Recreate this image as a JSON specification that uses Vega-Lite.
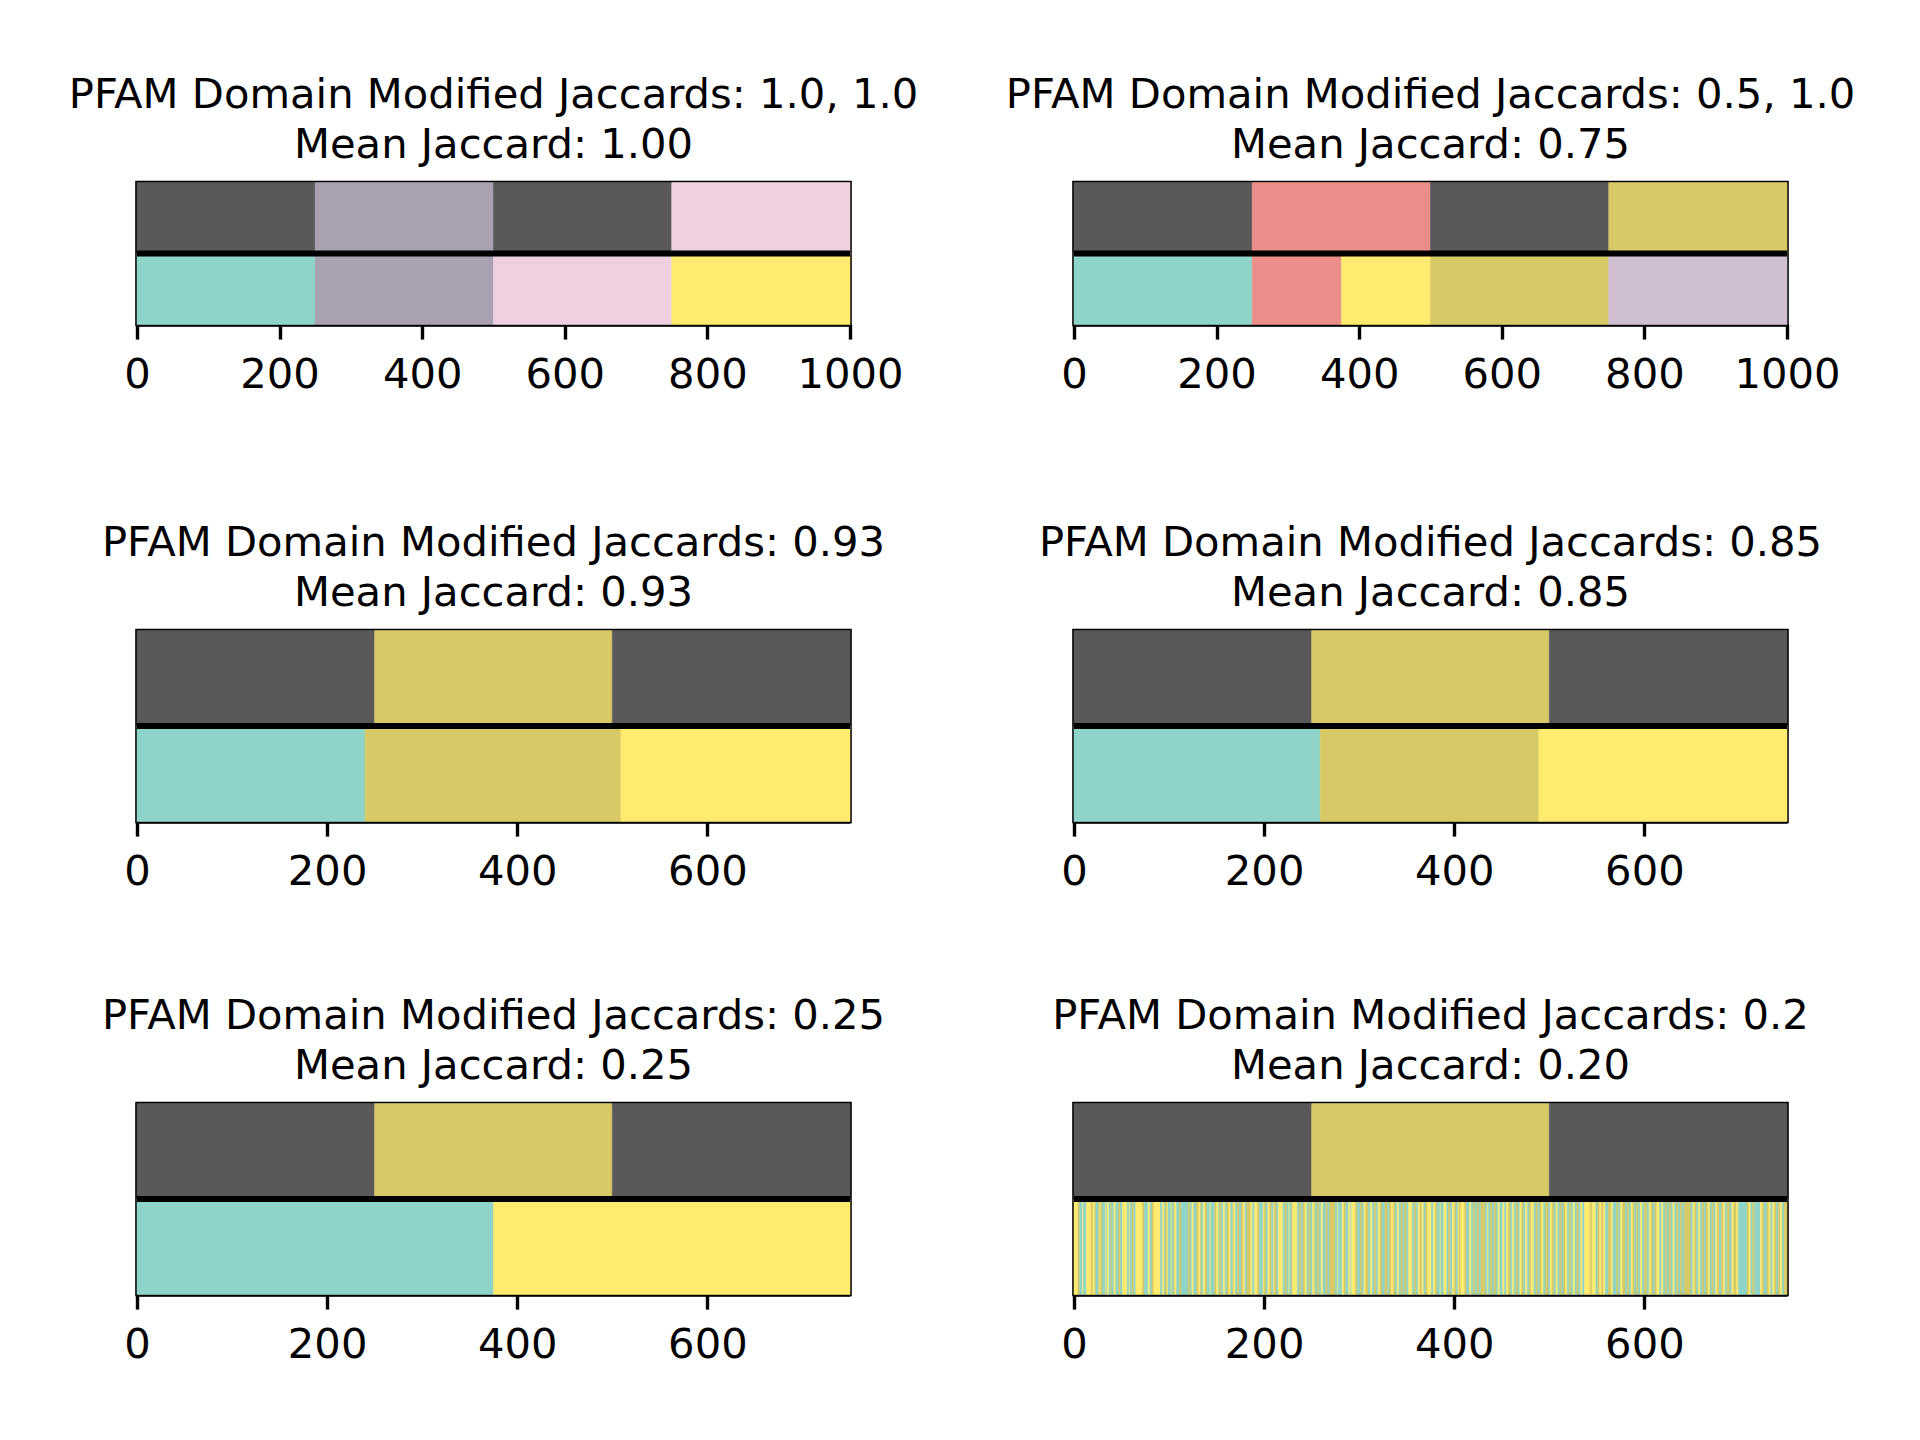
{
  "$schema": "https://vega.github.io/schema/vega-lite/v6.json",
  "background": "white",
  "padding": {"left": 67, "top": 72.5, "right": 20, "bottom": 20},
  "datasets": {
    "bars": [
      {"panel": "A", "track": "t", "start": 0, "end": 250, "pfam": "none"},
      {"panel": "A", "track": "t", "start": 250, "end": 500, "pfam": "d4"},
      {"panel": "A", "track": "t", "start": 500, "end": 750, "pfam": "none"},
      {"panel": "A", "track": "t", "start": 750, "end": 1000, "pfam": "d5"},
      {"panel": "A", "track": "b", "start": 0, "end": 250, "pfam": "d1"},
      {"panel": "A", "track": "b", "start": 250, "end": 500, "pfam": "d4"},
      {"panel": "A", "track": "b", "start": 500, "end": 750, "pfam": "d5"},
      {"panel": "A", "track": "b", "start": 750, "end": 1000, "pfam": "d2"},
      {"panel": "B", "track": "t", "start": 0, "end": 250, "pfam": "none"},
      {"panel": "B", "track": "t", "start": 250, "end": 500, "pfam": "d6"},
      {"panel": "B", "track": "t", "start": 500, "end": 750, "pfam": "none"},
      {"panel": "B", "track": "t", "start": 750, "end": 1000, "pfam": "d3"},
      {"panel": "B", "track": "b", "start": 0, "end": 250, "pfam": "d1"},
      {"panel": "B", "track": "b", "start": 250, "end": 375, "pfam": "d6"},
      {"panel": "B", "track": "b", "start": 375, "end": 500, "pfam": "d2"},
      {"panel": "B", "track": "b", "start": 500, "end": 750, "pfam": "d3"},
      {"panel": "B", "track": "b", "start": 750, "end": 1000, "pfam": "d7"},
      {"panel": "C", "track": "t", "start": 0, "end": 250, "pfam": "none"},
      {"panel": "C", "track": "t", "start": 250, "end": 500, "pfam": "d3"},
      {"panel": "C", "track": "t", "start": 500, "end": 750, "pfam": "none"},
      {"panel": "C", "track": "b", "start": 0, "end": 240, "pfam": "d1"},
      {"panel": "C", "track": "b", "start": 240, "end": 509, "pfam": "d3"},
      {"panel": "C", "track": "b", "start": 509, "end": 750, "pfam": "d2"},
      {"panel": "D", "track": "t", "start": 0, "end": 250, "pfam": "none"},
      {"panel": "D", "track": "t", "start": 250, "end": 500, "pfam": "d3"},
      {"panel": "D", "track": "t", "start": 500, "end": 750, "pfam": "none"},
      {"panel": "D", "track": "b", "start": 0, "end": 259, "pfam": "d1"},
      {"panel": "D", "track": "b", "start": 259, "end": 489, "pfam": "d3"},
      {"panel": "D", "track": "b", "start": 489, "end": 750, "pfam": "d2"},
      {"panel": "E", "track": "t", "start": 0, "end": 250, "pfam": "none"},
      {"panel": "E", "track": "t", "start": 250, "end": 500, "pfam": "d3"},
      {"panel": "E", "track": "t", "start": 500, "end": 750, "pfam": "none"},
      {"panel": "E", "track": "b", "start": 0, "end": 375, "pfam": "d1"},
      {"panel": "E", "track": "b", "start": 375, "end": 750, "pfam": "d2"},
      {"panel": "F", "track": "t", "start": 0, "end": 250, "pfam": "none"},
      {"panel": "F", "track": "t", "start": 250, "end": 500, "pfam": "d3"},
      {"panel": "F", "track": "t", "start": 500, "end": 750, "pfam": "none"},
      {"panel": "F", "track": "b", "start": 0, "end": 4, "pfam": "d2"},
      {"panel": "F", "track": "b", "start": 4, "end": 6, "pfam": "d3"},
      {"panel": "F", "track": "b", "start": 6, "end": 9, "pfam": "d1"},
      {"panel": "F", "track": "b", "start": 9, "end": 10, "pfam": "d2"},
      {"panel": "F", "track": "b", "start": 10, "end": 13, "pfam": "d1"},
      {"panel": "F", "track": "b", "start": 13, "end": 18, "pfam": "d2"},
      {"panel": "F", "track": "b", "start": 18, "end": 20, "pfam": "d3"},
      {"panel": "F", "track": "b", "start": 20, "end": 22, "pfam": "d2"},
      {"panel": "F", "track": "b", "start": 22, "end": 23, "pfam": "d3"},
      {"panel": "F", "track": "b", "start": 23, "end": 26, "pfam": "d1"},
      {"panel": "F", "track": "b", "start": 26, "end": 27, "pfam": "d3"},
      {"panel": "F", "track": "b", "start": 27, "end": 28, "pfam": "d2"},
      {"panel": "F", "track": "b", "start": 28, "end": 30, "pfam": "d3"},
      {"panel": "F", "track": "b", "start": 30, "end": 33, "pfam": "d1"},
      {"panel": "F", "track": "b", "start": 33, "end": 34, "pfam": "d2"},
      {"panel": "F", "track": "b", "start": 34, "end": 35, "pfam": "d1"},
      {"panel": "F", "track": "b", "start": 35, "end": 37, "pfam": "d2"},
      {"panel": "F", "track": "b", "start": 37, "end": 39, "pfam": "d1"},
      {"panel": "F", "track": "b", "start": 39, "end": 40, "pfam": "d3"},
      {"panel": "F", "track": "b", "start": 40, "end": 42, "pfam": "d1"},
      {"panel": "F", "track": "b", "start": 42, "end": 44, "pfam": "d2"},
      {"panel": "F", "track": "b", "start": 44, "end": 47, "pfam": "d1"},
      {"panel": "F", "track": "b", "start": 47, "end": 49, "pfam": "d3"},
      {"panel": "F", "track": "b", "start": 49, "end": 51, "pfam": "d1"},
      {"panel": "F", "track": "b", "start": 51, "end": 56, "pfam": "d2"},
      {"panel": "F", "track": "b", "start": 56, "end": 58, "pfam": "d1"},
      {"panel": "F", "track": "b", "start": 58, "end": 59, "pfam": "d2"},
      {"panel": "F", "track": "b", "start": 59, "end": 61, "pfam": "d1"},
      {"panel": "F", "track": "b", "start": 61, "end": 63, "pfam": "d3"},
      {"panel": "F", "track": "b", "start": 63, "end": 65, "pfam": "d1"},
      {"panel": "F", "track": "b", "start": 65, "end": 72, "pfam": "d2"},
      {"panel": "F", "track": "b", "start": 72, "end": 74, "pfam": "d3"},
      {"panel": "F", "track": "b", "start": 74, "end": 78, "pfam": "d1"},
      {"panel": "F", "track": "b", "start": 78, "end": 80, "pfam": "d2"},
      {"panel": "F", "track": "b", "start": 80, "end": 82, "pfam": "d1"},
      {"panel": "F", "track": "b", "start": 82, "end": 84, "pfam": "d3"},
      {"panel": "F", "track": "b", "start": 84, "end": 91, "pfam": "d2"},
      {"panel": "F", "track": "b", "start": 91, "end": 93, "pfam": "d1"},
      {"panel": "F", "track": "b", "start": 93, "end": 95, "pfam": "d2"},
      {"panel": "F", "track": "b", "start": 95, "end": 96, "pfam": "d1"},
      {"panel": "F", "track": "b", "start": 96, "end": 98, "pfam": "d3"},
      {"panel": "F", "track": "b", "start": 98, "end": 99, "pfam": "d2"},
      {"panel": "F", "track": "b", "start": 99, "end": 102, "pfam": "d1"},
      {"panel": "F", "track": "b", "start": 102, "end": 103, "pfam": "d2"},
      {"panel": "F", "track": "b", "start": 103, "end": 105, "pfam": "d1"},
      {"panel": "F", "track": "b", "start": 105, "end": 106, "pfam": "d3"},
      {"panel": "F", "track": "b", "start": 106, "end": 108, "pfam": "d2"},
      {"panel": "F", "track": "b", "start": 108, "end": 111, "pfam": "d1"},
      {"panel": "F", "track": "b", "start": 111, "end": 113, "pfam": "d3"},
      {"panel": "F", "track": "b", "start": 113, "end": 120, "pfam": "d1"},
      {"panel": "F", "track": "b", "start": 120, "end": 122, "pfam": "d3"},
      {"panel": "F", "track": "b", "start": 122, "end": 124, "pfam": "d1"},
      {"panel": "F", "track": "b", "start": 124, "end": 126, "pfam": "d2"},
      {"panel": "F", "track": "b", "start": 126, "end": 129, "pfam": "d1"},
      {"panel": "F", "track": "b", "start": 129, "end": 131, "pfam": "d3"},
      {"panel": "F", "track": "b", "start": 131, "end": 133, "pfam": "d2"},
      {"panel": "F", "track": "b", "start": 133, "end": 134, "pfam": "d3"},
      {"panel": "F", "track": "b", "start": 134, "end": 136, "pfam": "d1"},
      {"panel": "F", "track": "b", "start": 136, "end": 138, "pfam": "d2"},
      {"panel": "F", "track": "b", "start": 138, "end": 140, "pfam": "d3"},
      {"panel": "F", "track": "b", "start": 140, "end": 143, "pfam": "d1"},
      {"panel": "F", "track": "b", "start": 143, "end": 144, "pfam": "d2"},
      {"panel": "F", "track": "b", "start": 144, "end": 148, "pfam": "d1"},
      {"panel": "F", "track": "b", "start": 148, "end": 150, "pfam": "d3"},
      {"panel": "F", "track": "b", "start": 150, "end": 152, "pfam": "d2"},
      {"panel": "F", "track": "b", "start": 152, "end": 153, "pfam": "d1"},
      {"panel": "F", "track": "b", "start": 153, "end": 155, "pfam": "d3"},
      {"panel": "F", "track": "b", "start": 155, "end": 157, "pfam": "d1"},
      {"panel": "F", "track": "b", "start": 157, "end": 159, "pfam": "d2"},
      {"panel": "F", "track": "b", "start": 159, "end": 161, "pfam": "d1"},
      {"panel": "F", "track": "b", "start": 161, "end": 163, "pfam": "d3"},
      {"panel": "F", "track": "b", "start": 163, "end": 165, "pfam": "d2"},
      {"panel": "F", "track": "b", "start": 165, "end": 167, "pfam": "d1"},
      {"panel": "F", "track": "b", "start": 167, "end": 168, "pfam": "d3"},
      {"panel": "F", "track": "b", "start": 168, "end": 170, "pfam": "d2"},
      {"panel": "F", "track": "b", "start": 170, "end": 172, "pfam": "d1"},
      {"panel": "F", "track": "b", "start": 172, "end": 174, "pfam": "d3"},
      {"panel": "F", "track": "b", "start": 174, "end": 176, "pfam": "d1"},
      {"panel": "F", "track": "b", "start": 176, "end": 178, "pfam": "d3"},
      {"panel": "F", "track": "b", "start": 178, "end": 180, "pfam": "d2"},
      {"panel": "F", "track": "b", "start": 180, "end": 182, "pfam": "d1"},
      {"panel": "F", "track": "b", "start": 182, "end": 186, "pfam": "d3"},
      {"panel": "F", "track": "b", "start": 186, "end": 188, "pfam": "d2"},
      {"panel": "F", "track": "b", "start": 188, "end": 190, "pfam": "d1"},
      {"panel": "F", "track": "b", "start": 190, "end": 193, "pfam": "d2"},
      {"panel": "F", "track": "b", "start": 193, "end": 195, "pfam": "d3"},
      {"panel": "F", "track": "b", "start": 195, "end": 199, "pfam": "d1"},
      {"panel": "F", "track": "b", "start": 199, "end": 200, "pfam": "d2"},
      {"panel": "F", "track": "b", "start": 200, "end": 202, "pfam": "d3"},
      {"panel": "F", "track": "b", "start": 202, "end": 204, "pfam": "d1"},
      {"panel": "F", "track": "b", "start": 204, "end": 206, "pfam": "d2"},
      {"panel": "F", "track": "b", "start": 206, "end": 208, "pfam": "d3"},
      {"panel": "F", "track": "b", "start": 208, "end": 210, "pfam": "d1"},
      {"panel": "F", "track": "b", "start": 210, "end": 211, "pfam": "d2"},
      {"panel": "F", "track": "b", "start": 211, "end": 213, "pfam": "d3"},
      {"panel": "F", "track": "b", "start": 213, "end": 215, "pfam": "d1"},
      {"panel": "F", "track": "b", "start": 215, "end": 220, "pfam": "d2"},
      {"panel": "F", "track": "b", "start": 220, "end": 222, "pfam": "d1"},
      {"panel": "F", "track": "b", "start": 222, "end": 224, "pfam": "d3"},
      {"panel": "F", "track": "b", "start": 224, "end": 226, "pfam": "d1"},
      {"panel": "F", "track": "b", "start": 226, "end": 227, "pfam": "d2"},
      {"panel": "F", "track": "b", "start": 227, "end": 229, "pfam": "d1"},
      {"panel": "F", "track": "b", "start": 229, "end": 230, "pfam": "d3"},
      {"panel": "F", "track": "b", "start": 230, "end": 235, "pfam": "d2"},
      {"panel": "F", "track": "b", "start": 235, "end": 237, "pfam": "d1"},
      {"panel": "F", "track": "b", "start": 237, "end": 239, "pfam": "d3"},
      {"panel": "F", "track": "b", "start": 239, "end": 241, "pfam": "d1"},
      {"panel": "F", "track": "b", "start": 241, "end": 243, "pfam": "d3"},
      {"panel": "F", "track": "b", "start": 243, "end": 245, "pfam": "d2"},
      {"panel": "F", "track": "b", "start": 245, "end": 247, "pfam": "d1"},
      {"panel": "F", "track": "b", "start": 247, "end": 249, "pfam": "d3"},
      {"panel": "F", "track": "b", "start": 249, "end": 251, "pfam": "d1"},
      {"panel": "F", "track": "b", "start": 251, "end": 253, "pfam": "d2"},
      {"panel": "F", "track": "b", "start": 253, "end": 254, "pfam": "d3"},
      {"panel": "F", "track": "b", "start": 254, "end": 256, "pfam": "d1"},
      {"panel": "F", "track": "b", "start": 256, "end": 258, "pfam": "d3"},
      {"panel": "F", "track": "b", "start": 258, "end": 260, "pfam": "d1"},
      {"panel": "F", "track": "b", "start": 260, "end": 262, "pfam": "d2"},
      {"panel": "F", "track": "b", "start": 262, "end": 265, "pfam": "d1"},
      {"panel": "F", "track": "b", "start": 265, "end": 267, "pfam": "d3"},
      {"panel": "F", "track": "b", "start": 267, "end": 269, "pfam": "d1"},
      {"panel": "F", "track": "b", "start": 269, "end": 275, "pfam": "d3"},
      {"panel": "F", "track": "b", "start": 275, "end": 277, "pfam": "d1"},
      {"panel": "F", "track": "b", "start": 277, "end": 278, "pfam": "d2"},
      {"panel": "F", "track": "b", "start": 278, "end": 282, "pfam": "d1"},
      {"panel": "F", "track": "b", "start": 282, "end": 284, "pfam": "d2"},
      {"panel": "F", "track": "b", "start": 284, "end": 286, "pfam": "d3"},
      {"panel": "F", "track": "b", "start": 286, "end": 289, "pfam": "d1"},
      {"panel": "F", "track": "b", "start": 289, "end": 291, "pfam": "d2"},
      {"panel": "F", "track": "b", "start": 291, "end": 292, "pfam": "d1"},
      {"panel": "F", "track": "b", "start": 292, "end": 296, "pfam": "d2"},
      {"panel": "F", "track": "b", "start": 296, "end": 298, "pfam": "d3"},
      {"panel": "F", "track": "b", "start": 298, "end": 301, "pfam": "d1"},
      {"panel": "F", "track": "b", "start": 301, "end": 303, "pfam": "d3"},
      {"panel": "F", "track": "b", "start": 303, "end": 305, "pfam": "d1"},
      {"panel": "F", "track": "b", "start": 305, "end": 307, "pfam": "d2"},
      {"panel": "F", "track": "b", "start": 307, "end": 310, "pfam": "d3"},
      {"panel": "F", "track": "b", "start": 310, "end": 312, "pfam": "d1"},
      {"panel": "F", "track": "b", "start": 312, "end": 314, "pfam": "d2"},
      {"panel": "F", "track": "b", "start": 314, "end": 316, "pfam": "d1"},
      {"panel": "F", "track": "b", "start": 316, "end": 318, "pfam": "d3"},
      {"panel": "F", "track": "b", "start": 318, "end": 320, "pfam": "d1"},
      {"panel": "F", "track": "b", "start": 320, "end": 322, "pfam": "d2"},
      {"panel": "F", "track": "b", "start": 322, "end": 324, "pfam": "d3"},
      {"panel": "F", "track": "b", "start": 324, "end": 327, "pfam": "d1"},
      {"panel": "F", "track": "b", "start": 327, "end": 330, "pfam": "d3"},
      {"panel": "F", "track": "b", "start": 330, "end": 332, "pfam": "d1"},
      {"panel": "F", "track": "b", "start": 332, "end": 334, "pfam": "d3"},
      {"panel": "F", "track": "b", "start": 334, "end": 336, "pfam": "d2"},
      {"panel": "F", "track": "b", "start": 336, "end": 338, "pfam": "d3"},
      {"panel": "F", "track": "b", "start": 338, "end": 340, "pfam": "d1"},
      {"panel": "F", "track": "b", "start": 340, "end": 342, "pfam": "d2"},
      {"panel": "F", "track": "b", "start": 342, "end": 344, "pfam": "d1"},
      {"panel": "F", "track": "b", "start": 344, "end": 346, "pfam": "d3"},
      {"panel": "F", "track": "b", "start": 346, "end": 348, "pfam": "d1"},
      {"panel": "F", "track": "b", "start": 348, "end": 350, "pfam": "d3"},
      {"panel": "F", "track": "b", "start": 350, "end": 352, "pfam": "d1"},
      {"panel": "F", "track": "b", "start": 352, "end": 356, "pfam": "d2"},
      {"panel": "F", "track": "b", "start": 356, "end": 358, "pfam": "d1"},
      {"panel": "F", "track": "b", "start": 358, "end": 360, "pfam": "d3"},
      {"panel": "F", "track": "b", "start": 360, "end": 362, "pfam": "d1"},
      {"panel": "F", "track": "b", "start": 362, "end": 364, "pfam": "d2"},
      {"panel": "F", "track": "b", "start": 364, "end": 366, "pfam": "d3"},
      {"panel": "F", "track": "b", "start": 366, "end": 368, "pfam": "d2"},
      {"panel": "F", "track": "b", "start": 368, "end": 370, "pfam": "d1"},
      {"panel": "F", "track": "b", "start": 370, "end": 372, "pfam": "d3"},
      {"panel": "F", "track": "b", "start": 372, "end": 376, "pfam": "d2"},
      {"panel": "F", "track": "b", "start": 376, "end": 378, "pfam": "d1"},
      {"panel": "F", "track": "b", "start": 378, "end": 380, "pfam": "d2"},
      {"panel": "F", "track": "b", "start": 380, "end": 382, "pfam": "d3"},
      {"panel": "F", "track": "b", "start": 382, "end": 385, "pfam": "d1"},
      {"panel": "F", "track": "b", "start": 385, "end": 386, "pfam": "d2"},
      {"panel": "F", "track": "b", "start": 386, "end": 389, "pfam": "d1"},
      {"panel": "F", "track": "b", "start": 389, "end": 392, "pfam": "d2"},
      {"panel": "F", "track": "b", "start": 392, "end": 394, "pfam": "d1"},
      {"panel": "F", "track": "b", "start": 394, "end": 396, "pfam": "d3"},
      {"panel": "F", "track": "b", "start": 396, "end": 398, "pfam": "d1"},
      {"panel": "F", "track": "b", "start": 398, "end": 400, "pfam": "d2"},
      {"panel": "F", "track": "b", "start": 400, "end": 402, "pfam": "d3"},
      {"panel": "F", "track": "b", "start": 402, "end": 404, "pfam": "d1"},
      {"panel": "F", "track": "b", "start": 404, "end": 405, "pfam": "d2"},
      {"panel": "F", "track": "b", "start": 405, "end": 407, "pfam": "d3"},
      {"panel": "F", "track": "b", "start": 407, "end": 411, "pfam": "d2"},
      {"panel": "F", "track": "b", "start": 411, "end": 413, "pfam": "d3"},
      {"panel": "F", "track": "b", "start": 413, "end": 416, "pfam": "d1"},
      {"panel": "F", "track": "b", "start": 416, "end": 418, "pfam": "d2"},
      {"panel": "F", "track": "b", "start": 418, "end": 420, "pfam": "d1"},
      {"panel": "F", "track": "b", "start": 420, "end": 422, "pfam": "d3"},
      {"panel": "F", "track": "b", "start": 422, "end": 424, "pfam": "d1"},
      {"panel": "F", "track": "b", "start": 424, "end": 426, "pfam": "d3"},
      {"panel": "F", "track": "b", "start": 426, "end": 428, "pfam": "d1"},
      {"panel": "F", "track": "b", "start": 428, "end": 433, "pfam": "d3"},
      {"panel": "F", "track": "b", "start": 433, "end": 435, "pfam": "d1"},
      {"panel": "F", "track": "b", "start": 435, "end": 436, "pfam": "d2"},
      {"panel": "F", "track": "b", "start": 436, "end": 438, "pfam": "d1"},
      {"panel": "F", "track": "b", "start": 438, "end": 440, "pfam": "d3"},
      {"panel": "F", "track": "b", "start": 440, "end": 442, "pfam": "d1"},
      {"panel": "F", "track": "b", "start": 442, "end": 444, "pfam": "d3"},
      {"panel": "F", "track": "b", "start": 444, "end": 446, "pfam": "d1"},
      {"panel": "F", "track": "b", "start": 446, "end": 448, "pfam": "d2"},
      {"panel": "F", "track": "b", "start": 448, "end": 451, "pfam": "d1"},
      {"panel": "F", "track": "b", "start": 451, "end": 453, "pfam": "d2"},
      {"panel": "F", "track": "b", "start": 453, "end": 455, "pfam": "d1"},
      {"panel": "F", "track": "b", "start": 455, "end": 457, "pfam": "d2"},
      {"panel": "F", "track": "b", "start": 457, "end": 459, "pfam": "d3"},
      {"panel": "F", "track": "b", "start": 459, "end": 461, "pfam": "d1"},
      {"panel": "F", "track": "b", "start": 461, "end": 463, "pfam": "d2"},
      {"panel": "F", "track": "b", "start": 463, "end": 465, "pfam": "d1"},
      {"panel": "F", "track": "b", "start": 465, "end": 467, "pfam": "d3"},
      {"panel": "F", "track": "b", "start": 467, "end": 469, "pfam": "d1"},
      {"panel": "F", "track": "b", "start": 469, "end": 471, "pfam": "d2"},
      {"panel": "F", "track": "b", "start": 471, "end": 473, "pfam": "d3"},
      {"panel": "F", "track": "b", "start": 473, "end": 475, "pfam": "d1"},
      {"panel": "F", "track": "b", "start": 475, "end": 477, "pfam": "d2"},
      {"panel": "F", "track": "b", "start": 477, "end": 479, "pfam": "d1"},
      {"panel": "F", "track": "b", "start": 479, "end": 481, "pfam": "d3"},
      {"panel": "F", "track": "b", "start": 481, "end": 484, "pfam": "d2"},
      {"panel": "F", "track": "b", "start": 484, "end": 486, "pfam": "d1"},
      {"panel": "F", "track": "b", "start": 486, "end": 488, "pfam": "d3"},
      {"panel": "F", "track": "b", "start": 488, "end": 490, "pfam": "d1"},
      {"panel": "F", "track": "b", "start": 490, "end": 492, "pfam": "d3"},
      {"panel": "F", "track": "b", "start": 492, "end": 494, "pfam": "d2"},
      {"panel": "F", "track": "b", "start": 494, "end": 496, "pfam": "d1"},
      {"panel": "F", "track": "b", "start": 496, "end": 499, "pfam": "d3"},
      {"panel": "F", "track": "b", "start": 499, "end": 501, "pfam": "d1"},
      {"panel": "F", "track": "b", "start": 501, "end": 503, "pfam": "d2"},
      {"panel": "F", "track": "b", "start": 503, "end": 505, "pfam": "d3"},
      {"panel": "F", "track": "b", "start": 505, "end": 507, "pfam": "d1"},
      {"panel": "F", "track": "b", "start": 507, "end": 509, "pfam": "d2"},
      {"panel": "F", "track": "b", "start": 509, "end": 511, "pfam": "d1"},
      {"panel": "F", "track": "b", "start": 511, "end": 513, "pfam": "d3"},
      {"panel": "F", "track": "b", "start": 513, "end": 515, "pfam": "d1"},
      {"panel": "F", "track": "b", "start": 515, "end": 517, "pfam": "d3"},
      {"panel": "F", "track": "b", "start": 517, "end": 519, "pfam": "d2"},
      {"panel": "F", "track": "b", "start": 519, "end": 521, "pfam": "d1"},
      {"panel": "F", "track": "b", "start": 521, "end": 523, "pfam": "d3"},
      {"panel": "F", "track": "b", "start": 523, "end": 525, "pfam": "d1"},
      {"panel": "F", "track": "b", "start": 525, "end": 527, "pfam": "d2"},
      {"panel": "F", "track": "b", "start": 527, "end": 529, "pfam": "d1"},
      {"panel": "F", "track": "b", "start": 529, "end": 531, "pfam": "d3"},
      {"panel": "F", "track": "b", "start": 531, "end": 533, "pfam": "d1"},
      {"panel": "F", "track": "b", "start": 533, "end": 535, "pfam": "d2"},
      {"panel": "F", "track": "b", "start": 535, "end": 537, "pfam": "d1"},
      {"panel": "F", "track": "b", "start": 537, "end": 543, "pfam": "d2"},
      {"panel": "F", "track": "b", "start": 543, "end": 545, "pfam": "d3"},
      {"panel": "F", "track": "b", "start": 545, "end": 549, "pfam": "d2"},
      {"panel": "F", "track": "b", "start": 549, "end": 551, "pfam": "d1"},
      {"panel": "F", "track": "b", "start": 551, "end": 553, "pfam": "d3"},
      {"panel": "F", "track": "b", "start": 553, "end": 555, "pfam": "d2"},
      {"panel": "F", "track": "b", "start": 555, "end": 557, "pfam": "d3"},
      {"panel": "F", "track": "b", "start": 557, "end": 559, "pfam": "d2"},
      {"panel": "F", "track": "b", "start": 559, "end": 562, "pfam": "d1"},
      {"panel": "F", "track": "b", "start": 562, "end": 565, "pfam": "d3"},
      {"panel": "F", "track": "b", "start": 565, "end": 567, "pfam": "d2"},
      {"panel": "F", "track": "b", "start": 567, "end": 571, "pfam": "d1"},
      {"panel": "F", "track": "b", "start": 571, "end": 573, "pfam": "d3"},
      {"panel": "F", "track": "b", "start": 573, "end": 575, "pfam": "d1"},
      {"panel": "F", "track": "b", "start": 575, "end": 577, "pfam": "d2"},
      {"panel": "F", "track": "b", "start": 577, "end": 580, "pfam": "d3"},
      {"panel": "F", "track": "b", "start": 580, "end": 582, "pfam": "d1"},
      {"panel": "F", "track": "b", "start": 582, "end": 584, "pfam": "d3"},
      {"panel": "F", "track": "b", "start": 584, "end": 586, "pfam": "d1"},
      {"panel": "F", "track": "b", "start": 586, "end": 588, "pfam": "d2"},
      {"panel": "F", "track": "b", "start": 588, "end": 590, "pfam": "d3"},
      {"panel": "F", "track": "b", "start": 590, "end": 592, "pfam": "d1"},
      {"panel": "F", "track": "b", "start": 592, "end": 594, "pfam": "d3"},
      {"panel": "F", "track": "b", "start": 594, "end": 596, "pfam": "d1"},
      {"panel": "F", "track": "b", "start": 596, "end": 598, "pfam": "d2"},
      {"panel": "F", "track": "b", "start": 598, "end": 600, "pfam": "d1"},
      {"panel": "F", "track": "b", "start": 600, "end": 603, "pfam": "d3"},
      {"panel": "F", "track": "b", "start": 603, "end": 605, "pfam": "d1"},
      {"panel": "F", "track": "b", "start": 605, "end": 607, "pfam": "d2"},
      {"panel": "F", "track": "b", "start": 607, "end": 609, "pfam": "d3"},
      {"panel": "F", "track": "b", "start": 609, "end": 611, "pfam": "d1"},
      {"panel": "F", "track": "b", "start": 611, "end": 613, "pfam": "d3"},
      {"panel": "F", "track": "b", "start": 613, "end": 616, "pfam": "d2"},
      {"panel": "F", "track": "b", "start": 616, "end": 618, "pfam": "d1"},
      {"panel": "F", "track": "b", "start": 618, "end": 620, "pfam": "d2"},
      {"panel": "F", "track": "b", "start": 620, "end": 622, "pfam": "d1"},
      {"panel": "F", "track": "b", "start": 622, "end": 624, "pfam": "d3"},
      {"panel": "F", "track": "b", "start": 624, "end": 626, "pfam": "d1"},
      {"panel": "F", "track": "b", "start": 626, "end": 628, "pfam": "d3"},
      {"panel": "F", "track": "b", "start": 628, "end": 630, "pfam": "d1"},
      {"panel": "F", "track": "b", "start": 630, "end": 632, "pfam": "d2"},
      {"panel": "F", "track": "b", "start": 632, "end": 634, "pfam": "d1"},
      {"panel": "F", "track": "b", "start": 634, "end": 636, "pfam": "d3"},
      {"panel": "F", "track": "b", "start": 636, "end": 638, "pfam": "d1"},
      {"panel": "F", "track": "b", "start": 638, "end": 640, "pfam": "d3"},
      {"panel": "F", "track": "b", "start": 640, "end": 642, "pfam": "d1"},
      {"panel": "F", "track": "b", "start": 642, "end": 649, "pfam": "d3"},
      {"panel": "F", "track": "b", "start": 649, "end": 651, "pfam": "d1"},
      {"panel": "F", "track": "b", "start": 651, "end": 653, "pfam": "d2"},
      {"panel": "F", "track": "b", "start": 653, "end": 655, "pfam": "d3"},
      {"panel": "F", "track": "b", "start": 655, "end": 657, "pfam": "d1"},
      {"panel": "F", "track": "b", "start": 657, "end": 659, "pfam": "d2"},
      {"panel": "F", "track": "b", "start": 659, "end": 661, "pfam": "d1"},
      {"panel": "F", "track": "b", "start": 661, "end": 663, "pfam": "d3"},
      {"panel": "F", "track": "b", "start": 663, "end": 665, "pfam": "d1"},
      {"panel": "F", "track": "b", "start": 665, "end": 667, "pfam": "d3"},
      {"panel": "F", "track": "b", "start": 667, "end": 669, "pfam": "d2"},
      {"panel": "F", "track": "b", "start": 669, "end": 671, "pfam": "d1"},
      {"panel": "F", "track": "b", "start": 671, "end": 673, "pfam": "d3"},
      {"panel": "F", "track": "b", "start": 673, "end": 675, "pfam": "d1"},
      {"panel": "F", "track": "b", "start": 675, "end": 677, "pfam": "d2"},
      {"panel": "F", "track": "b", "start": 677, "end": 679, "pfam": "d3"},
      {"panel": "F", "track": "b", "start": 679, "end": 681, "pfam": "d1"},
      {"panel": "F", "track": "b", "start": 681, "end": 683, "pfam": "d3"},
      {"panel": "F", "track": "b", "start": 683, "end": 685, "pfam": "d2"},
      {"panel": "F", "track": "b", "start": 685, "end": 687, "pfam": "d1"},
      {"panel": "F", "track": "b", "start": 687, "end": 690, "pfam": "d3"},
      {"panel": "F", "track": "b", "start": 690, "end": 692, "pfam": "d1"},
      {"panel": "F", "track": "b", "start": 692, "end": 694, "pfam": "d2"},
      {"panel": "F", "track": "b", "start": 694, "end": 697, "pfam": "d3"},
      {"panel": "F", "track": "b", "start": 697, "end": 699, "pfam": "d2"},
      {"panel": "F", "track": "b", "start": 699, "end": 708, "pfam": "d1"},
      {"panel": "F", "track": "b", "start": 708, "end": 710, "pfam": "d3"},
      {"panel": "F", "track": "b", "start": 710, "end": 712, "pfam": "d2"},
      {"panel": "F", "track": "b", "start": 712, "end": 714, "pfam": "d1"},
      {"panel": "F", "track": "b", "start": 714, "end": 716, "pfam": "d3"},
      {"panel": "F", "track": "b", "start": 716, "end": 722, "pfam": "d1"},
      {"panel": "F", "track": "b", "start": 722, "end": 724, "pfam": "d2"},
      {"panel": "F", "track": "b", "start": 724, "end": 726, "pfam": "d3"},
      {"panel": "F", "track": "b", "start": 726, "end": 729, "pfam": "d1"},
      {"panel": "F", "track": "b", "start": 729, "end": 731, "pfam": "d3"},
      {"panel": "F", "track": "b", "start": 731, "end": 733, "pfam": "d2"},
      {"panel": "F", "track": "b", "start": 733, "end": 735, "pfam": "d1"},
      {"panel": "F", "track": "b", "start": 735, "end": 737, "pfam": "d2"},
      {"panel": "F", "track": "b", "start": 737, "end": 739, "pfam": "d3"},
      {"panel": "F", "track": "b", "start": 739, "end": 741, "pfam": "d1"},
      {"panel": "F", "track": "b", "start": 741, "end": 743, "pfam": "d3"},
      {"panel": "F", "track": "b", "start": 743, "end": 745, "pfam": "d2"},
      {"panel": "F", "track": "b", "start": 745, "end": 747, "pfam": "d1"},
      {"panel": "F", "track": "b", "start": 747, "end": 750, "pfam": "d3"}
    ]
  },
  "bounds": "flush",
  "spacing": 448,
  "vconcat": [
    {
      "bounds": "flush",
      "spacing": 224,
      "hconcat": [
        {
          "width": 713,
          "height": 142,
          "title": {"text": ["PFAM Domain Modified Jaccards: 1.0, 1.0", "Mean Jaccard: 1.00"]},
          "layer": [
            {
              "data": {"name": "bars"},
              "transform": [{"filter": "datum.panel === 'A'"}],
              "mark": {"type": "rect", "strokeWidth": 0.6},
              "encoding": {
                "x": {"field": "start", "type": "quantitative", "scale": {"domain": [0, 1000], "nice": false}, "axis": {"values": [0, 200, 400, 600, 800, 1000], "format": "d", "title": null}},
                "x2": {"field": "end"},
                "y": {"field": "track", "type": "nominal", "scale": {"domain": ["t", "b"], "paddingInner": 0, "paddingOuter": 0}, "axis": null},
                "color": {"field": "pfam", "type": "nominal", "scale": {"domain": ["none", "d1", "d2", "d3", "d4", "d5", "d6", "d7"], "range": ["#595959", "#8fd4c8", "#feeb70", "#d6c966", "#a9a0b2", "#efd0e0", "#eb8e8a", "#d0bfd0"]}, "legend": null},
                "stroke": {"field": "pfam", "type": "nominal", "scale": {"domain": ["none", "d1", "d2", "d3", "d4", "d5", "d6", "d7"], "range": ["#595959", "#8fd4c8", "#feeb70", "#d6c966", "#a9a0b2", "#efd0e0", "#eb8e8a", "#d0bfd0"]}, "legend": null}
              }
            },
            {
              "data": {"values": [{"track": "b"}]},
              "mark": {"type": "rule", "color": "black", "strokeWidth": 5.8},
              "encoding": {"y": {"field": "track", "type": "nominal", "bandPosition": 0}}
            }
          ]
        },
        {
          "width": 713,
          "height": 142,
          "title": {"text": ["PFAM Domain Modified Jaccards: 0.5, 1.0", "Mean Jaccard: 0.75"]},
          "layer": [
            {
              "data": {"name": "bars"},
              "transform": [{"filter": "datum.panel === 'B'"}],
              "mark": {"type": "rect", "strokeWidth": 0.6},
              "encoding": {
                "x": {"field": "start", "type": "quantitative", "scale": {"domain": [0, 1000], "nice": false}, "axis": {"values": [0, 200, 400, 600, 800, 1000], "format": "d", "title": null}},
                "x2": {"field": "end"},
                "y": {"field": "track", "type": "nominal", "scale": {"domain": ["t", "b"], "paddingInner": 0, "paddingOuter": 0}, "axis": null},
                "color": {"field": "pfam", "type": "nominal", "scale": {"domain": ["none", "d1", "d2", "d3", "d4", "d5", "d6", "d7"], "range": ["#595959", "#8fd4c8", "#feeb70", "#d6c966", "#a9a0b2", "#efd0e0", "#eb8e8a", "#d0bfd0"]}, "legend": null},
                "stroke": {"field": "pfam", "type": "nominal", "scale": {"domain": ["none", "d1", "d2", "d3", "d4", "d5", "d6", "d7"], "range": ["#595959", "#8fd4c8", "#feeb70", "#d6c966", "#a9a0b2", "#efd0e0", "#eb8e8a", "#d0bfd0"]}, "legend": null}
              }
            },
            {
              "data": {"values": [{"track": "b"}]},
              "mark": {"type": "rule", "color": "black", "strokeWidth": 5.8},
              "encoding": {"y": {"field": "track", "type": "nominal", "bandPosition": 0}}
            }
          ]
        }
      ]
    },
    {
      "bounds": "flush",
      "spacing": 473,
      "vconcat": [
        {
          "bounds": "flush",
          "spacing": 224,
          "hconcat": [
            {
              "width": 713,
              "height": 191,
              "title": {"text": ["PFAM Domain Modified Jaccards: 0.93", "Mean Jaccard: 0.93"]},
              "layer": [
                {
                  "data": {"name": "bars"},
                  "transform": [{"filter": "datum.panel === 'C'"}],
                  "mark": {"type": "rect", "strokeWidth": 0.6},
                  "encoding": {
                    "x": {"field": "start", "type": "quantitative", "scale": {"domain": [0, 750], "nice": false}, "axis": {"values": [0, 200, 400, 600], "format": "d", "title": null}},
                    "x2": {"field": "end"},
                    "y": {"field": "track", "type": "nominal", "scale": {"domain": ["t", "b"], "paddingInner": 0, "paddingOuter": 0}, "axis": null},
                    "color": {"field": "pfam", "type": "nominal", "scale": {"domain": ["none", "d1", "d2", "d3", "d4", "d5", "d6", "d7"], "range": ["#595959", "#8fd4c8", "#feeb70", "#d6c966", "#a9a0b2", "#efd0e0", "#eb8e8a", "#d0bfd0"]}, "legend": null},
                    "stroke": {"field": "pfam", "type": "nominal", "scale": {"domain": ["none", "d1", "d2", "d3", "d4", "d5", "d6", "d7"], "range": ["#595959", "#8fd4c8", "#feeb70", "#d6c966", "#a9a0b2", "#efd0e0", "#eb8e8a", "#d0bfd0"]}, "legend": null}
                  }
                },
                {
                  "data": {"values": [{"track": "b"}]},
                  "mark": {"type": "rule", "color": "black", "strokeWidth": 5.8},
                  "encoding": {"y": {"field": "track", "type": "nominal", "bandPosition": 0}}
                }
              ]
            },
            {
              "width": 713,
              "height": 191,
              "title": {"text": ["PFAM Domain Modified Jaccards: 0.85", "Mean Jaccard: 0.85"]},
              "layer": [
                {
                  "data": {"name": "bars"},
                  "transform": [{"filter": "datum.panel === 'D'"}],
                  "mark": {"type": "rect", "strokeWidth": 0.6},
                  "encoding": {
                    "x": {"field": "start", "type": "quantitative", "scale": {"domain": [0, 750], "nice": false}, "axis": {"values": [0, 200, 400, 600], "format": "d", "title": null}},
                    "x2": {"field": "end"},
                    "y": {"field": "track", "type": "nominal", "scale": {"domain": ["t", "b"], "paddingInner": 0, "paddingOuter": 0}, "axis": null},
                    "color": {"field": "pfam", "type": "nominal", "scale": {"domain": ["none", "d1", "d2", "d3", "d4", "d5", "d6", "d7"], "range": ["#595959", "#8fd4c8", "#feeb70", "#d6c966", "#a9a0b2", "#efd0e0", "#eb8e8a", "#d0bfd0"]}, "legend": null},
                    "stroke": {"field": "pfam", "type": "nominal", "scale": {"domain": ["none", "d1", "d2", "d3", "d4", "d5", "d6", "d7"], "range": ["#595959", "#8fd4c8", "#feeb70", "#d6c966", "#a9a0b2", "#efd0e0", "#eb8e8a", "#d0bfd0"]}, "legend": null}
                  }
                },
                {
                  "data": {"values": [{"track": "b"}]},
                  "mark": {"type": "rule", "color": "black", "strokeWidth": 5.8},
                  "encoding": {"y": {"field": "track", "type": "nominal", "bandPosition": 0}}
                }
              ]
            }
          ]
        },
        {
          "bounds": "flush",
          "spacing": 224,
          "hconcat": [
            {
              "width": 713,
              "height": 191,
              "title": {"text": ["PFAM Domain Modified Jaccards: 0.25", "Mean Jaccard: 0.25"]},
              "layer": [
                {
                  "data": {"name": "bars"},
                  "transform": [{"filter": "datum.panel === 'E'"}],
                  "mark": {"type": "rect", "strokeWidth": 0.6},
                  "encoding": {
                    "x": {"field": "start", "type": "quantitative", "scale": {"domain": [0, 750], "nice": false}, "axis": {"values": [0, 200, 400, 600], "format": "d", "title": null}},
                    "x2": {"field": "end"},
                    "y": {"field": "track", "type": "nominal", "scale": {"domain": ["t", "b"], "paddingInner": 0, "paddingOuter": 0}, "axis": null},
                    "color": {"field": "pfam", "type": "nominal", "scale": {"domain": ["none", "d1", "d2", "d3", "d4", "d5", "d6", "d7"], "range": ["#595959", "#8fd4c8", "#feeb70", "#d6c966", "#a9a0b2", "#efd0e0", "#eb8e8a", "#d0bfd0"]}, "legend": null},
                    "stroke": {"field": "pfam", "type": "nominal", "scale": {"domain": ["none", "d1", "d2", "d3", "d4", "d5", "d6", "d7"], "range": ["#595959", "#8fd4c8", "#feeb70", "#d6c966", "#a9a0b2", "#efd0e0", "#eb8e8a", "#d0bfd0"]}, "legend": null}
                  }
                },
                {
                  "data": {"values": [{"track": "b"}]},
                  "mark": {"type": "rule", "color": "black", "strokeWidth": 5.8},
                  "encoding": {"y": {"field": "track", "type": "nominal", "bandPosition": 0}}
                }
              ]
            },
            {
              "width": 713,
              "height": 191,
              "title": {"text": ["PFAM Domain Modified Jaccards: 0.2", "Mean Jaccard: 0.20"]},
              "layer": [
                {
                  "data": {"name": "bars"},
                  "transform": [{"filter": "datum.panel === 'F'"}],
                  "mark": {"type": "rect", "strokeWidth": 0.6},
                  "encoding": {
                    "x": {"field": "start", "type": "quantitative", "scale": {"domain": [0, 750], "nice": false}, "axis": {"values": [0, 200, 400, 600], "format": "d", "title": null}},
                    "x2": {"field": "end"},
                    "y": {"field": "track", "type": "nominal", "scale": {"domain": ["t", "b"], "paddingInner": 0, "paddingOuter": 0}, "axis": null},
                    "color": {"field": "pfam", "type": "nominal", "scale": {"domain": ["none", "d1", "d2", "d3", "d4", "d5", "d6", "d7"], "range": ["#595959", "#8fd4c8", "#feeb70", "#d6c966", "#a9a0b2", "#efd0e0", "#eb8e8a", "#d0bfd0"]}, "legend": null},
                    "stroke": {"field": "pfam", "type": "nominal", "scale": {"domain": ["none", "d1", "d2", "d3", "d4", "d5", "d6", "d7"], "range": ["#595959", "#8fd4c8", "#feeb70", "#d6c966", "#a9a0b2", "#efd0e0", "#eb8e8a", "#d0bfd0"]}, "legend": null}
                  }
                },
                {
                  "data": {"values": [{"track": "b"}]},
                  "mark": {"type": "rule", "color": "black", "strokeWidth": 5.8},
                  "encoding": {"y": {"field": "track", "type": "nominal", "bandPosition": 0}}
                }
              ]
            }
          ]
        }
      ]
    }
  ],
  "config": {
    "font": "DejaVu Sans",
    "view": {"stroke": "black", "strokeWidth": 3.6},
    "title": {"font": "DejaVu Sans", "fontSize": 41.7, "fontWeight": "normal", "color": "black", "lineHeight": 49.5, "offset": 16, "anchor": "middle", "baseline": "bottom"},
    "axisX": {
      "domainColor": "black",
      "domainWidth": 3.6,
      "tickColor": "black",
      "tickWidth": 3.4,
      "tickSize": 14.6,
      "labelFont": "DejaVu Sans",
      "labelFontSize": 41.7,
      "labelColor": "black",
      "labelPadding": 15.5,
      "labelFlush": false,
      "labelOverlap": false,
      "grid": false
    }
  }
}
